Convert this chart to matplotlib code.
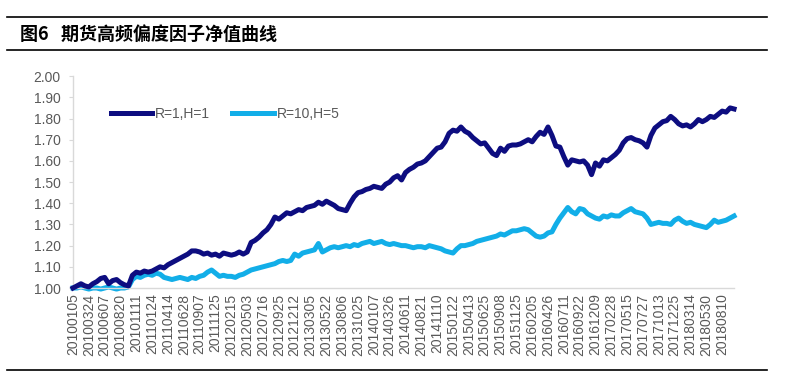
import numpy as np
import matplotlib.pyplot as plt
from matplotlib.lines import Line2D

plt.rcParams['font.family'] = ['Liberation Sans', 'DejaVu Sans']

# tick labels (one every 4 data points)
tick_labels = ['20100105', '20100324', '20100607', '20100820', '20101111', '20110124',
               '20110414', '20110628', '20110907', '20111125', '20120215', '20120503',
               '20120716', '20120925', '20121212', '20130305', '20130522', '20130806',
               '20131025', '20140107', '20140326', '20140611', '20140821', '20141110',
               '20150122', '20150413', '20150625', '20150908', '20151125', '20160205',
               '20160426', '20160711', '20160922', '20161209', '20170228', '20170515',
               '20170727', '20171013', '20171225', '20180314', '20180530', '20180810']

# R=1,H=1 net value
r1_h1 = [1.00, 1.01, 1.02, 1.01, 1.005, 1.02, 1.03, 1.045, 1.05, 1.02, 1.035, 1.04,
         1.025, 1.015, 1.01, 1.06, 1.075, 1.07, 1.08, 1.075, 1.08, 1.09, 1.10, 1.095,
         1.11, 1.12, 1.13, 1.14, 1.15, 1.16, 1.175, 1.175, 1.17, 1.16, 1.165, 1.155,
         1.16, 1.15, 1.165, 1.16, 1.155, 1.16, 1.17, 1.16, 1.17, 1.215, 1.225, 1.24,
         1.26, 1.275, 1.30, 1.335, 1.325, 1.34, 1.355, 1.35, 1.36, 1.37, 1.365, 1.38,
         1.385, 1.39, 1.405, 1.395, 1.41, 1.40, 1.39, 1.375, 1.37, 1.365, 1.40, 1.43,
         1.45, 1.455, 1.465, 1.47, 1.48, 1.475, 1.47, 1.49, 1.50, 1.52, 1.53, 1.51,
         1.545, 1.56, 1.57, 1.585, 1.59, 1.60, 1.62, 1.64, 1.66, 1.665, 1.69, 1.73,
         1.745, 1.74, 1.76, 1.74, 1.73, 1.71, 1.695, 1.68, 1.685, 1.66, 1.635, 1.625,
         1.66, 1.645, 1.67, 1.675, 1.675, 1.68, 1.69, 1.70, 1.69, 1.715, 1.735, 1.725,
         1.76, 1.72, 1.67, 1.665, 1.62, 1.58, 1.605, 1.60, 1.595, 1.60, 1.58, 1.535,
         1.59, 1.575, 1.605, 1.60, 1.615, 1.63, 1.65, 1.685, 1.705, 1.71, 1.70, 1.695,
         1.685, 1.665, 1.72, 1.755, 1.77, 1.785, 1.79, 1.81, 1.795, 1.775, 1.765, 1.77,
         1.76, 1.775, 1.795, 1.785, 1.795, 1.81, 1.805, 1.82, 1.835, 1.83, 1.85, 1.845]

# R=10,H=5 net value
r10_h5 = [1.00, 1.00, 1.005, 1.00, 0.995, 1.00, 1.00, 0.995, 1.00, 1.005, 1.00, 0.995,
          1.00, 1.00, 1.005, 1.04, 1.055, 1.05, 1.06, 1.065, 1.06, 1.07, 1.065, 1.05,
          1.045, 1.04, 1.045, 1.05, 1.045, 1.04, 1.05, 1.045, 1.055, 1.06, 1.075, 1.085,
          1.07, 1.055, 1.06, 1.055, 1.055, 1.05, 1.06, 1.065, 1.075, 1.085, 1.09, 1.095,
          1.10, 1.105, 1.11, 1.115, 1.125, 1.13, 1.125, 1.13, 1.16, 1.15, 1.165, 1.17,
          1.175, 1.18, 1.21, 1.17, 1.18, 1.19, 1.195, 1.19, 1.195, 1.20, 1.195, 1.205,
          1.20, 1.21, 1.215, 1.22, 1.21, 1.215, 1.22, 1.21, 1.205, 1.21, 1.205, 1.20,
          1.20, 1.195, 1.19, 1.195, 1.195, 1.19, 1.20, 1.195, 1.19, 1.185, 1.175, 1.17,
          1.165, 1.185, 1.20, 1.20, 1.205, 1.21, 1.22, 1.225, 1.23, 1.235, 1.24, 1.245,
          1.255, 1.25, 1.26, 1.27, 1.27, 1.275, 1.28, 1.275, 1.26, 1.245, 1.24, 1.245,
          1.26, 1.265, 1.30, 1.33, 1.355, 1.38, 1.36, 1.35, 1.375, 1.37, 1.35, 1.34,
          1.33, 1.325, 1.34, 1.335, 1.345, 1.34, 1.34, 1.355, 1.365, 1.375, 1.36, 1.355,
          1.35, 1.33, 1.30, 1.305, 1.31, 1.305, 1.305, 1.30, 1.32, 1.33, 1.315, 1.305,
          1.31, 1.30, 1.295, 1.29, 1.285, 1.30, 1.32, 1.31, 1.315, 1.32, 1.33, 1.34]

dark = '#0d0d80'
light = '#12aee8'
grey = '#595959'

fig = plt.figure(figsize=(7.86, 3.75), dpi=100)
ax = fig.add_axes([0.0929, 0.232, 0.841, 0.565])

x = np.arange(len(r1_h1))
ax.plot(x, r10_h5, color=light, lw=3.6, label='R=10,H=5', clip_on=False, zorder=2)
ax.plot(x, r1_h1, color=dark, lw=3.6, label='R=1,H=1', clip_on=False, zorder=3)

ax.set_xlim(0, len(r1_h1) - 1)
ax.set_ylim(1.0, 2.0)
ax.set_yticks(np.arange(1.0, 2.001, 0.1))
ax.set_yticklabels([f'{v:.2f}' for v in np.arange(1.0, 2.001, 0.1)])
ax.set_xticks(np.arange(0, 4 * len(tick_labels), 4))
ax.set_xticklabels(tick_labels, rotation=90)

ax.tick_params(axis='y', colors=grey, labelsize=10, length=3, width=0.8, pad=6)
ax.tick_params(axis='x', colors=grey, labelsize=10, length=0, pad=4)
for s in ['top', 'right']:
    ax.spines[s].set_visible(False)
for s in ['left', 'bottom']:
    ax.spines[s].set_color('#d9d9d9')
    ax.spines[s].set_linewidth(1.0)
ax.tick_params(axis='y', color='#d9d9d9')

handles = [Line2D([], [], color=dark, lw=3.6), Line2D([], [], color=light, lw=3.6)]
ax.legend(handles, ['R=1,H=1', 'R=10,H=5'], loc='upper left', bbox_to_anchor=(0.038, 0.915),
          ncol=2, frameon=False, fontsize=10, handlelength=3.0, columnspacing=1.6,
          handletextpad=0.2, labelcolor=grey)

# header / footer rules and title
fig.add_artist(Line2D([0.009, 0.976], [1 - 17 / 375, 1 - 17 / 375], color='black', lw=1.2))
fig.add_artist(Line2D([0.009, 0.976], [1 - 50 / 375, 1 - 50 / 375], color='black', lw=1.2))
fig.add_artist(Line2D([0.009, 0.976], [1 - 370 / 375, 1 - 370 / 375], color='black', lw=1.2))
fig.text(0.025, 1 - 34 / 375, '图6   期货高频偏度因子净值曲线', fontsize=13, fontweight='bold',
         va='center', ha='left', family=['Noto Sans CJK SC', 'DejaVu Sans'])

fig.savefig('out.png', dpi=100)
